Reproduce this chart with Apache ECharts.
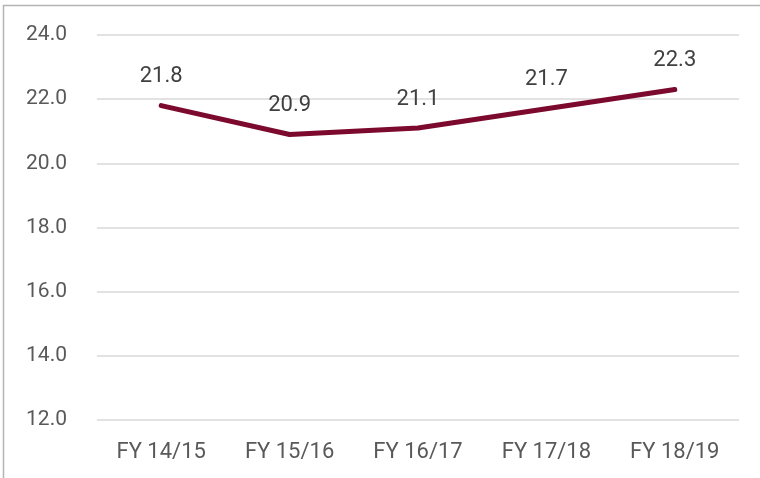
<!DOCTYPE html>
<html><head><meta charset="utf-8">
<script src="https://cdn.jsdelivr.net/npm/echarts@6/dist/echarts.min.js"></script>
<style>html,body{margin:0;padding:0;background:#fff}#c{width:760px;height:478px}</style>
</head><body><div id="c"></div>
<script>
const categories = ["FY 14/15", "FY 15/16", "FY 16/17", "FY 17/18", "FY 18/19"];
const values = [21.8, 20.9, 21.1, 21.7, 22.3];
const yMin = 12, yMax = 24, yStep = 2;

const chart = echarts.init(document.getElementById('c'), null, {renderer: 'canvas'});
const font = 'Roboto, "Noto Sans", sans-serif';
chart.setOption({
  animation: false,
  backgroundColor: '#ffffff',
  graphic: [{
    type: 'rect', silent: true, z: 0,
    shape: {x: 3.5, y: 5.5, width: 800, height: 500},
    style: {fill: 'none', stroke: '#b4b4b4', lineWidth: 1.5}
  }],
  grid: {left: 97, right: 21, top: 35, bottom: 58},
  xAxis: {
    type: 'category', data: categories, boundaryGap: true,
    axisLine: {show: false}, axisTick: {show: false},
    axisLabel: {color: '#595959', fontSize: 22, fontFamily: font, margin: 21}
  },
  yAxis: {
    type: 'value', min: yMin, max: yMax, interval: yStep,
    axisLine: {show: false}, axisTick: {show: false},
    splitLine: {lineStyle: {color: '#d9d9d9', width: 1.5}},
    axisLabel: {color: '#595959', fontSize: 21, fontFamily: font, margin: 30,
      formatter: v => v.toFixed(1)}
  },
  series: [{
    type: 'line', data: values, symbol: 'circle', symbolSize: 4, showSymbol: true,
    itemStyle: {color: '#7b0a2e', borderWidth: 0},
    lineStyle: {color: '#7b0a2e', width: 5, cap: 'round'},
    label: {show: true, position: 'top', distance: 16, color: '#404040',
      fontSize: 22, fontFamily: font, formatter: p => p.value.toFixed(1)}
  }]
});
</script></body></html>
